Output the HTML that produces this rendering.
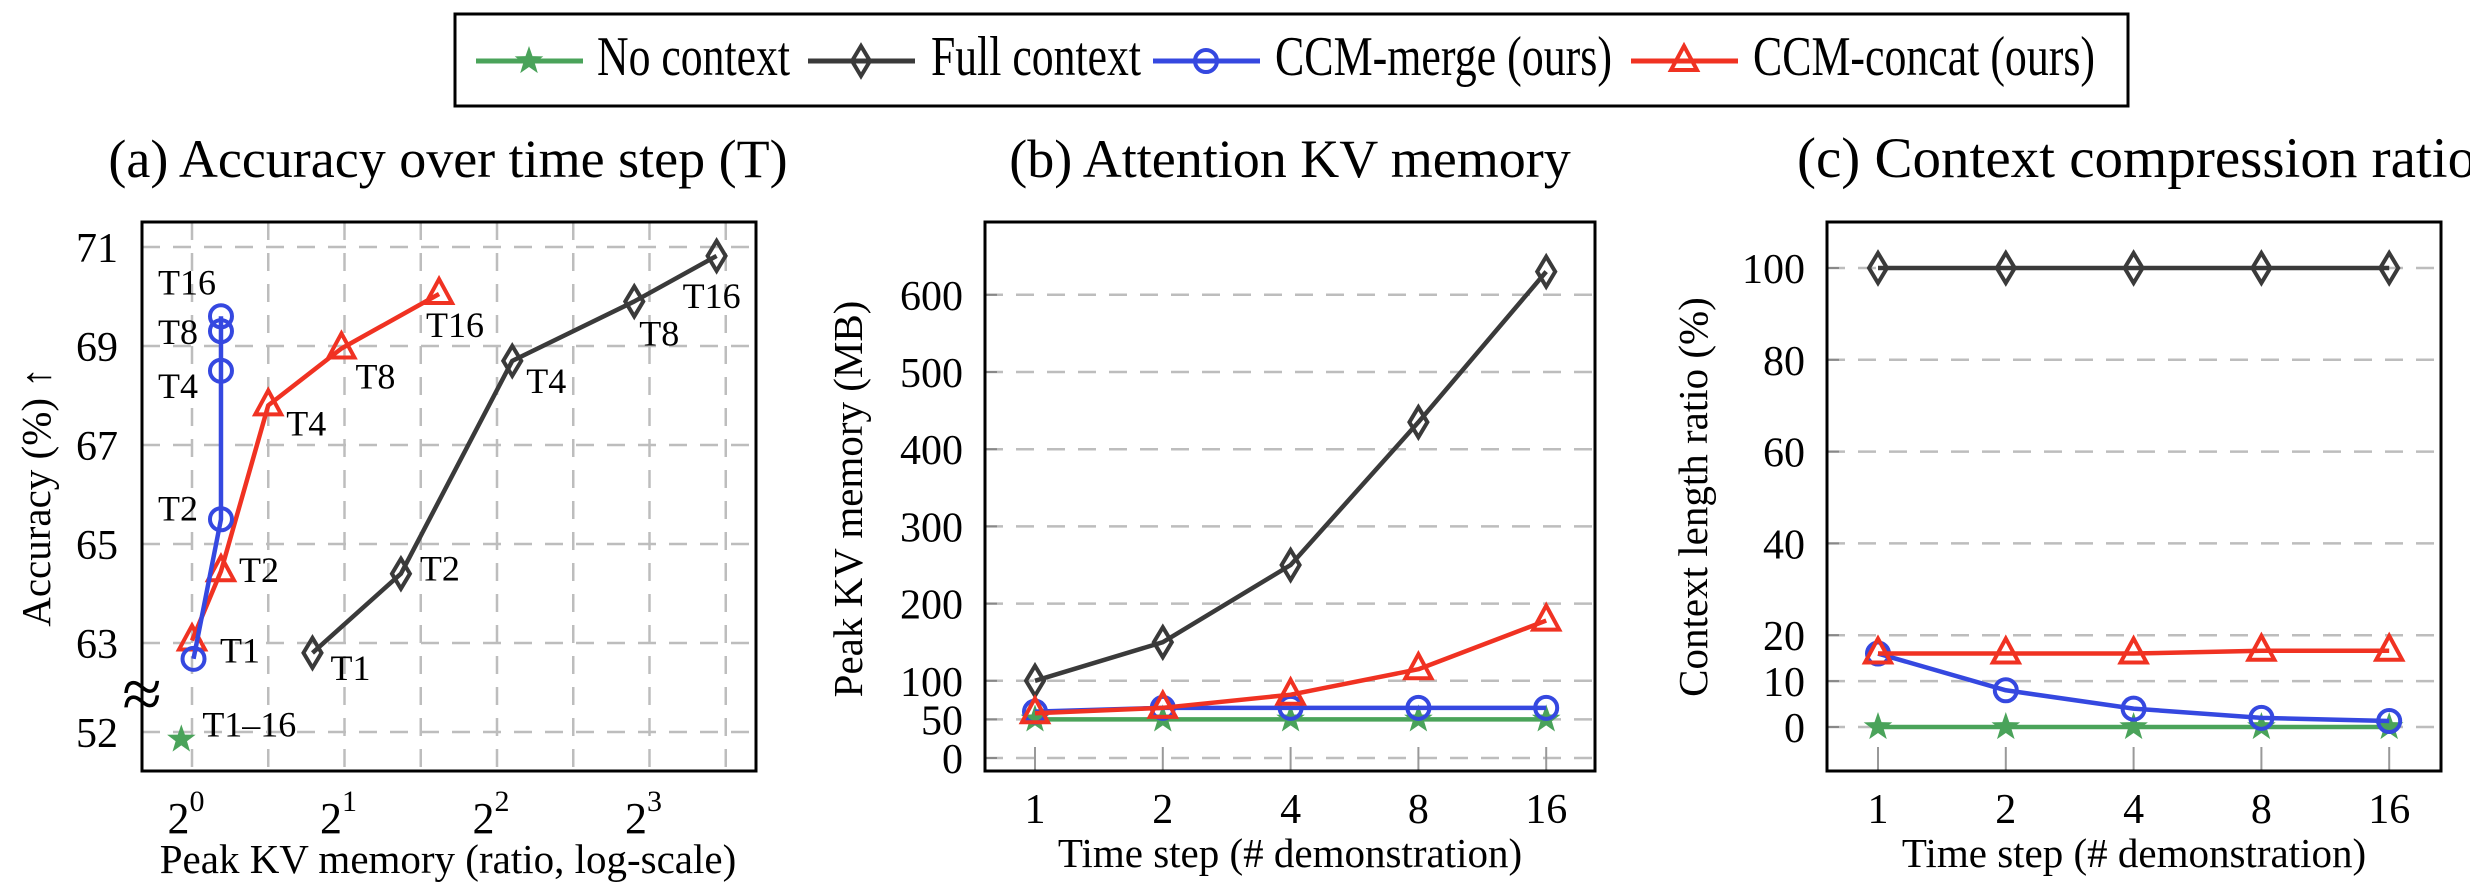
<!DOCTYPE html>
<html><head><meta charset="utf-8">
<style>
html,body{margin:0;padding:0;background:#fff;}
svg{display:block;font-family:"Liberation Serif",serif;}
</style></head>
<body>
<svg id="chart" width="2470" height="890" viewBox="0 0 2470 890" xmlns="http://www.w3.org/2000/svg">
<g id="legend">
<rect x="455" y="14" width="1673" height="92" fill="#fff" stroke="#000" stroke-width="3"/>
</g>
</svg>
<script>
const COLORS = {none:'#4aa35a', full:'#3a3a3a', merge:'#3548e0', concat:'#f03222'};
// Panel (a) data: x = log2(peak KV memory ratio), y = accuracy
const aMergeX = [0.01, 0.19, 0.19, 0.19, 0.19];
const aMergeY = [62.68, 65.5, 68.5, 69.3, 69.6];
const aConcatX = [0.0, 0.19, 0.5, 0.98, 1.62];
const aConcatY = [63.05, 64.45, 67.8, 68.95, 70.05];
const aFullX = [0.79, 1.37, 2.1, 2.9, 3.44];
const aFullY = [62.8, 64.4, 68.7, 69.9, 70.82];
const aNoneX = [-0.07];
const aNoneY = [51.85];
const aLabels = ['T1','T2','T4','T8','T16'];
const aYTicks = [71, 69, 67, 65, 63, 52];
const aXTicks = [0, 1, 2, 3];
// Panel (b)
const steps = ['1','2','4','8','16'];
const bFull = [100, 150, 250, 435, 630];
const bConcat = [58, 65, 82, 115, 178];
const bMerge = [60, 65, 65, 65, 65];
const bNone = [50, 50, 50, 50, 50];
const bYTicks = [0, 50, 100, 200, 300, 400, 500, 600];
// Panel (c)
const cFull = [100, 100, 100, 100, 100];
const cConcat = [16, 16, 16, 16.6, 16.6];
const cMerge = [16, 8, 4, 2, 1.3];
const cNone = [0, 0, 0, 0, 0];
const cYTicks = [0, 10, 20, 40, 60, 80, 100];

const NS = 'http://www.w3.org/2000/svg';
const svg = document.getElementById('chart');
function mk(tag, attrs, parent, text){
  const e = document.createElementNS(NS, tag);
  for (const k in attrs) e.setAttribute(k, attrs[k]);
  if (text !== undefined) e.textContent = text;
  (parent||svg).appendChild(e);
  return e;
}
function marker(type, x, y, color, parent){
  let e;
  if (type==='circle') e = mk('circle',{cx:x,cy:y,r:11,fill:'none',stroke:color,'stroke-width':4},parent);
  else if (type==='tri') e = mk('polygon',{points:`${x},${y-15} ${x+13},${y+9} ${x-13},${y+9}`,fill:'none',stroke:color,'stroke-width':4},parent);
  else if (type==='diamond') e = mk('polygon',{points:`${x},${y-15} ${x+9},${y} ${x},${y+15} ${x-9},${y}`,fill:'none',stroke:color,'stroke-width':4},parent);
  else {
    let p=[];for(let i=0;i<10;i++){const r=i%2?6:15;const a=-Math.PI/2+i*Math.PI/5;p.push((x+r*Math.cos(a)).toFixed(1)+','+(y+r*Math.sin(a)).toFixed(1));}
    e = mk('polygon',{points:p.join(' '),fill:color,stroke:'none'},parent);
  }
  return e;
}
function series(xs, ys, sx, sy, color, type, name, parent){
  const g = mk('g',{},parent);
  
  
  const pts = xs.map((v,i)=>sx(v)+','+sy(ys[i])).join(' ');
  if (xs.length>1){
    const l = mk('polyline',{points:pts,fill:'none',stroke:color,'stroke-width':4.5,'stroke-linejoin':'round'},g);
    
    
  }
  xs.forEach((v,i)=>{
    const m = marker(type, sx(v), sy(ys[i]), color, g);
    
    
  });
  return g;
}

// Legend entries
const legendItems = [
  {x:476, tx:597, tw:193, label:'No context', c:COLORS.none, t:'star'},
  {x:808, tx:931, tw:210, label:'Full context', c:COLORS.full, t:'diamond'},
  {x:1153, tx:1275, tw:337, label:'CCM-merge (ours)', c:COLORS.merge, t:'circle'},
  {x:1631, tx:1753, tw:342, label:'CCM-concat (ours)', c:COLORS.concat, t:'tri'}
];
const lg = document.getElementById('legend');
legendItems.forEach(it=>{
  const g = mk('g',{},lg);
  
  
  mk('line',{x1:it.x,y1:61,x2:it.x+107,y2:61,stroke:it.c,'stroke-width':5},g);
  marker(it.t, it.x+53, 61, it.c, g);
  mk('text',{x:it.tx,y:75,'font-size':56,textLength:it.tw,lengthAdjust:'spacingAndGlyphs'},g,it.label);
});

function frame(x0,y0,x1,y1,name){
  const r = mk('rect',{x:x0,y:y0,width:x1-x0,height:y1-y0,fill:'none',stroke:'#000','stroke-width':3});
  
  
}
function hgrid(y,x0,x1,g){ mk('line',{x1:x0,y1:y,x2:x1,y2:y,stroke:'#bdbdbd','stroke-width':2.5,'stroke-dasharray':'18,13'},g); }

const TITLE_FS = 54, TICK_FS = 42, AXIS_FS = 41, LAB_FS = 36;

// ---------- Panel (a) ----------
(function(){
  const L=142,R=756,T=222,B=771;
  const sx = v => 192 + v*152.5;
  const sy = v => v>=60 ? 247 + (71-v)*49.5 : 732 + (52-v)*49.5;
  const g = mk('g',{});
  
  
  const t = mk('text',{x:448,y:177,'font-size':TITLE_FS,'text-anchor':'middle'},g,'(a) Accuracy over time step (T)');
   
  for (let v=0; v<=3.5; v+=0.5) mk('line',{x1:sx(v),y1:T,x2:sx(v),y2:B,stroke:'#bdbdbd','stroke-width':2.5,'stroke-dasharray':'18,13'},g);
  aYTicks.forEach(v=>{ hgrid(sy(v),L,R,g);
    const tl = mk('text',{x:L-24,y:sy(v)+15,'font-size':TICK_FS,'text-anchor':'end'},g,String(v));
     
  });
  aXTicks.forEach(v=>{
    const tx = mk('text',{x:sx(v)-6,y:833,'font-size':TICK_FS+2,'text-anchor':'middle'},g,'2');
    mk('tspan',{dy:-22,'font-size':30},tx,String(v));
     
  });
  mk('text',{x:142,y:718,'font-size':72,'text-anchor':'middle'},g,'≈');
  frame(L,T,R,B,'panel-a-plot-area');
  const xl = mk('text',{x:448,y:873,'font-size':AXIS_FS,'text-anchor':'middle'},g,'Peak KV memory (ratio, log-scale)');
   
  const yl = mk('text',{x:0,y:0,'font-size':AXIS_FS,'text-anchor':'middle',transform:'translate(50,497) rotate(-90)'},g,'Accuracy (%) ↑');
   
  series(aFullX,aFullY,sx,sy,COLORS.full,'diamond','full-context-series',g);
  series(aConcatX,aConcatY,sx,sy,COLORS.concat,'tri','ccm-concat-series',g);
  series(aMergeX,aMergeY,sx,sy,COLORS.merge,'circle','ccm-merge-series',g);
  series(aNoneX,aNoneY,sx,sy,COLORS.none,'star','no-context-series',g);
  const mergeOff=[null,[-63,1],[-63,27],[-63,13],[-63,-22]];
  const concatOff=[[28,22],[18,11],[18,30],[14,40],[-13,43]];
  const fullOff=[[18,27],[19,7],[14,32],[5,44],[-34,52]];
  aLabels.forEach((lab,i)=>{
    if(mergeOff[i]) mk('text',{x:sx(aMergeX[i])+mergeOff[i][0],y:sy(aMergeY[i])+mergeOff[i][1],'font-size':LAB_FS},g,lab);
    mk('text',{x:sx(aConcatX[i])+concatOff[i][0],y:sy(aConcatY[i])+concatOff[i][1],'font-size':LAB_FS},g,lab);
    mk('text',{x:sx(aFullX[i])+fullOff[i][0],y:sy(aFullY[i])+fullOff[i][1],'font-size':LAB_FS},g,lab);
  });
  mk('text',{x:sx(aNoneX[0])+21,y:sy(aNoneY[0])-3,'font-size':LAB_FS},g,'T1–16');
})();

// ---------- category panels ----------
function catPanel(opts){
  const {L,R,T,B,x0,dx,y0,k,ticks,title,titleX,titleFs,anchor,ylab,ylabX,yc,name,data} = opts;
  const sx = i => x0 + i*dx;
  const sy = v => y0 - v*k;
  const g = mk('g',{});
  
  
  const t = mk('text',{x:titleX,y:177,'font-size':titleFs,'text-anchor':anchor},g,title);
   
  ticks.forEach(v=>{ hgrid(sy(v),L,R,g);
    mk('line',{x1:L,y1:sy(v),x2:L+12,y2:sy(v),stroke:'#888','stroke-width':2},g);
    const tl = mk('text',{x:L-22,y:sy(v)+15,'font-size':TICK_FS,'text-anchor':'end'},g,String(v));
     
  });
  steps.forEach((s,i)=>{
    mk('line',{x1:sx(i),y1:B-24,x2:sx(i),y2:B,stroke:'#999','stroke-width':2},g);
    const tl = mk('text',{x:sx(i),y:823,'font-size':TICK_FS,'text-anchor':'middle'},g,s);
     
  });
  frame(L,T,R,B,name+'-plot-area');
  const xl = mk('text',{x:(L+R)/2,y:867,'font-size':AXIS_FS,'text-anchor':'middle'},g,'Time step (# demonstration)');
   
  const yl = mk('text',{x:0,y:0,'font-size':AXIS_FS,'text-anchor':'middle',transform:`translate(${ylabX},${yc}) rotate(-90)`},g,ylab);
   
  const idx = steps.map((s,i)=>i);
  series(idx,data.full,sx,sy,COLORS.full,'diamond','full-context-series',g);
  series(idx,data.none,sx,sy,COLORS.none,'star','no-context-series',g);
  series(idx,data.merge,sx,sy,COLORS.merge,'circle','ccm-merge-series',g);
  series(idx,data.concat,sx,sy,COLORS.concat,'tri','ccm-concat-series',g);
}
catPanel({L:985,R:1595,T:222,B:771,x0:1035,dx:127.8,y0:758,k:0.772,ticks:bYTicks,
  title:'(b) Attention KV memory',titleX:1290,titleFs:54,anchor:'middle',ylab:'Peak KV memory (MB)',ylabX:862,yc:499,name:'panel-b',
  data:{full:bFull,concat:bConcat,merge:bMerge,none:bNone}});
catPanel({L:1827,R:2441,T:222,B:771,x0:1878,dx:127.8,y0:727,k:4.59,ticks:cYTicks,
  title:'(c) Context compression ratio',titleX:1797,titleFs:57,anchor:'start',ylab:'Context length ratio (%)',ylabX:1707,yc:497,name:'panel-c',
  data:{full:cFull,concat:cConcat,merge:cMerge,none:cNone}});
</script>
</body></html>
